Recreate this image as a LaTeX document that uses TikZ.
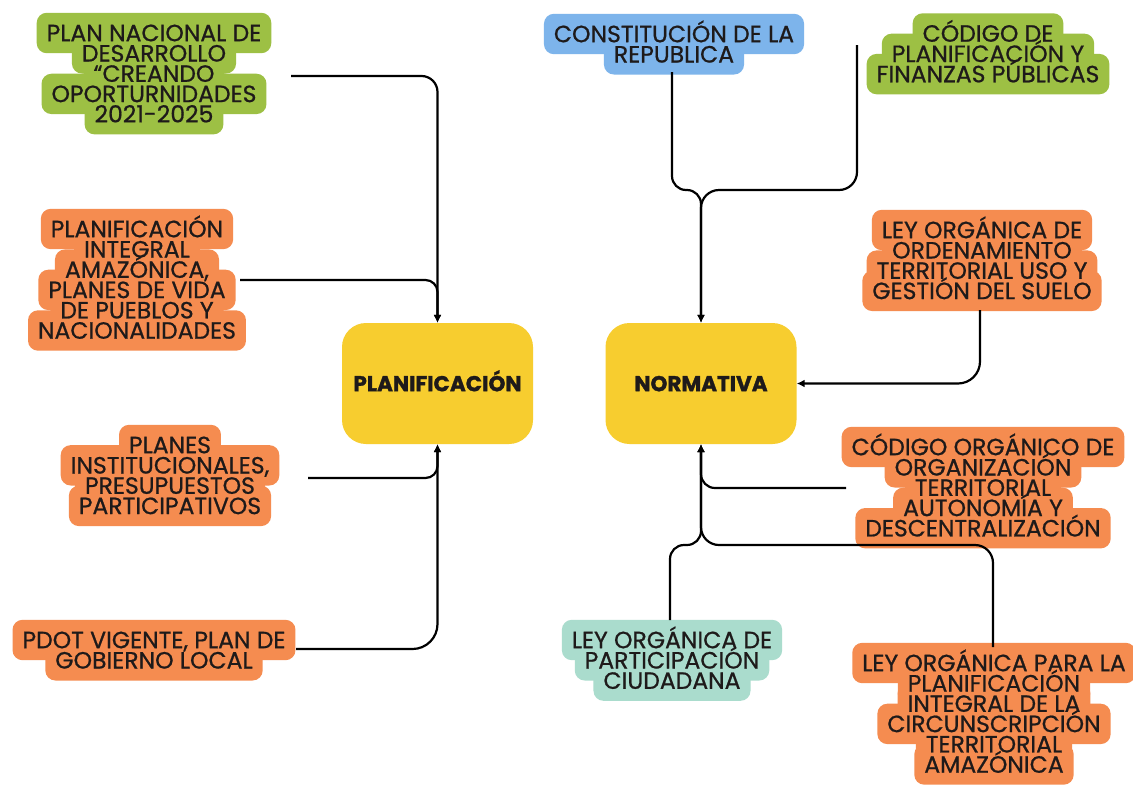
\documentclass[tikz,border=0pt]{standalone}
\usepackage{fontspec}
\setmainfont{Poppins}
\newfontfamily\boxfont[FakeBold=0.8]{Poppins}
\newfontfamily\corefont[FakeBold=1.5]{Poppins}
\usetikzlibrary{arrows.meta}
\usetikzlibrary{calc}

\definecolor{boxgreen}{HTML}{9DC044}
\definecolor{boxorange}{HTML}{F58C50}
\definecolor{boxblue}{HTML}{7DB4EB}
\definecolor{boxmint}{HTML}{AADCCD}
\definecolor{coreyellow}{HTML}{F7CD2F}
\definecolor{ink}{HTML}{1E1A1A}

\tikzset{
  hltext/.style={font=\boxfont\fontsize{23.5}{20}\selectfont, text=ink, text height=16.4pt,
    text depth=0pt, inner xsep=10pt, inner ysep=12pt},
  hlband/.style={hltext, rounded corners=10pt},
  core/.style={fill=coreyellow, rounded corners=24pt, minimum width=191pt,
    minimum height=121pt, font=\corefont\bfseries\fontsize{21.5}{20}\selectfont, text=ink,
    text height=15.4pt, text depth=0pt},
  link/.style={line width=2.2pt, -{Latex[length=8pt,width=8pt]}}
}

% one highlighted box: name, colour, x, y of first line, lines
\newcommand{\hlbox}[5]{%
  \foreach \row [count=\i] in {#5}
    \node[hlband, fill=#2] (#1-b\i) at (#3,#4+20.3*\i-20.3) {\phantom{\row}};
  \foreach \row [count=\i] in {#5}
    \node[hltext] (#1-\i) at (#3,#4+20.3*\i-20.3) {\row};
}

\begin{document}
\begin{tikzpicture}[x=1pt,y=-1pt]
    \useasboundingbox (0,0) rectangle (1133,785);
    \fill[white] (0,0) rectangle (1133,785);

    % Define the two main nodes
    \node[core] (plan) at (437.5,383.5) {PLANIFICACIÓN};
    \node[core] (norm) at (701,383.5) {NORMATIVA};

    % Left boxes
    \hlbox{pnd}{boxgreen}{154}{33}{PLAN NACIONAL DE, DESARROLLO, “CREANDO, OPORTURNIDADES, 2021-2025}
    \hlbox{pia}{boxorange}{137}{229}{PLANIFICACIÓN, INTEGRAL, {AMAZÓNICA,}, PLANES DE VIDA, DE PUEBLOS Y, NACIONALIDADES}
    \hlbox{pinst}{boxorange}{170}{445}{PLANES, {INSTITUCIONALES,}, PRESUPUESTOS, PARTICIPATIVOS}
    \hlbox{pdot}{boxorange}{154}{640}{{PDOT VIGENTE, PLAN DE}, GOBIERNO LOCAL}

    % Right boxes
    \hlbox{con}{boxblue}{674}{34}{CONSTITUCIÓN DE LA, REPUBLICA}
    \hlbox{cpf}{boxgreen}{988}{33.5}{CÓDIGO DE, PLANIFICACIÓN Y, FINANZAS PÚBLICAS}
    \hlbox{lot}{boxorange}{982}{230}{LEY ORGÁNICA DE, ORDENAMIENTO, TERRITORIAL USO Y, GESTIÓN DEL SUELO}
    \hlbox{coot}{boxorange}{983}{447}{CÓDIGO ORGÁNICO DE, ORGANIZACIÓN, TERRITORIAL, AUTONOMÍA Y, DESCENTRALIZACIÓN}
    \hlbox{lopc}{boxmint}{672}{640}{LEY ORGÁNICA DE, PARTICIPACIÓN, CIUDADANA}
    \hlbox{lopa}{boxorange}{994}{663}{LEY ORGÁNICA PARA LA, PLANIFICACIÓN, INTEGRAL DE LA, CIRCUNSCRIPCIÓN, TERRITORIAL, AMAZÓNICA}

    % Define the free ends of the lines
    \coordinate (pnd-out) at (291,76);
    \coordinate (pia-out) at (240,280);
    \coordinate (pinst-out) at (308,478);
    \coordinate (pdot-out) at (296,649);
    \coordinate (con-out) at (672,72);
    \coordinate (cpf-out) at (857,45);
    \coordinate (lot-out) at (980,310);
    \coordinate (coot-out) at (846,488);
    \coordinate (lopc-out) at (670,620);
    \coordinate (lopa-out) at (993,647);
    \coordinate (top-join) at (701,190);
    \coordinate (bot-join) at (701,545);

    % Draw the lines
    \draw[link, rounded corners=16pt] (pnd-out) -| (plan.north);
    \draw[link, rounded corners=12pt] (pia-out) -| (plan.north);
    \draw[link, rounded corners=12pt] (pinst-out) -| (plan.south);
    \draw[link, rounded corners=25pt] (pdot-out) -| (plan.south);

    \draw[link, rounded corners=14pt] (con-out) |- (top-join) -- (norm.north);
    \draw[link, rounded corners=18pt] (cpf-out) |- (top-join) -- (norm.north);
    \draw[link, rounded corners=22pt] (lot-out) |- (norm.east);
    \draw[link, rounded corners=14pt] (coot-out) -| (norm.south);
    \draw[link, rounded corners=14pt] (lopc-out) |- (bot-join) -- (norm.south);
    \draw[link, rounded corners=18pt] (lopa-out) |- (bot-join) -- (norm.south);
\end{tikzpicture}
\end{document}
